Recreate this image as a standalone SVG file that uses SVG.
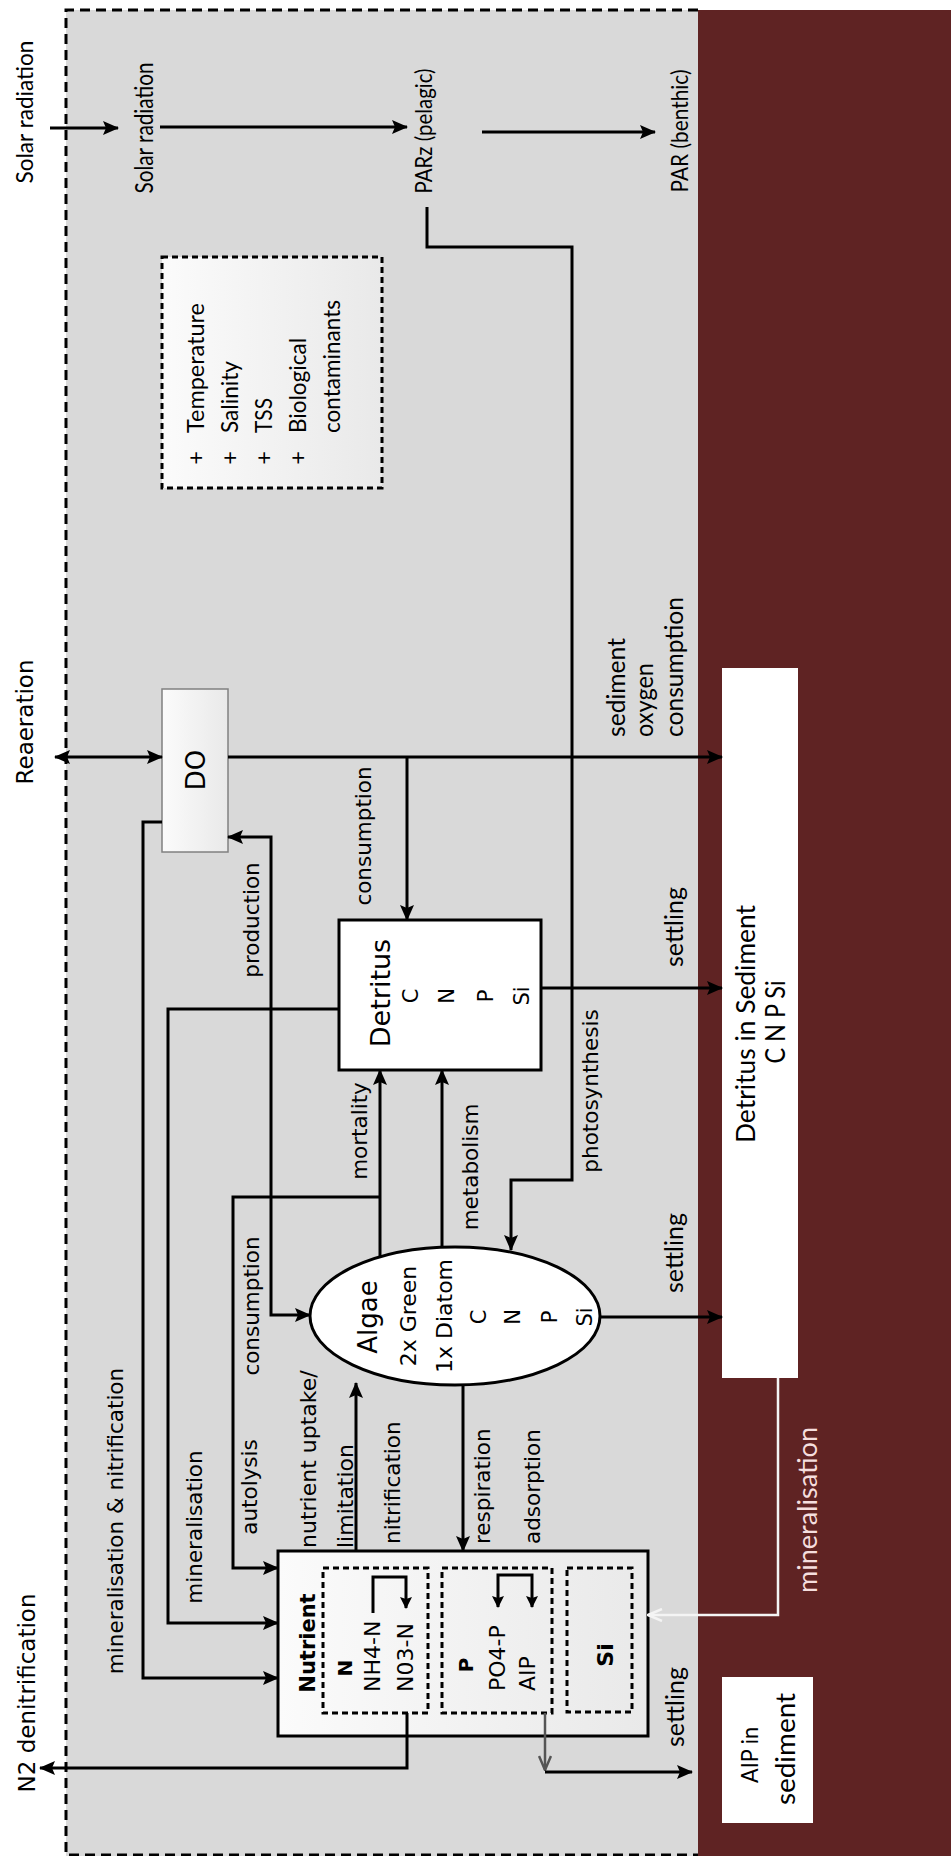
<svg xmlns="http://www.w3.org/2000/svg" width="951" height="1856" viewBox="0 0 951 1856">
<defs>
<style>
.dv{font-family:"DejaVu Sans",Verdana,sans-serif;fill:#000}
.lt{font-family:Lato,"Open Sans",sans-serif;fill:#000}
.b{font-weight:bold}
.f20{font-size:20px}.f21{font-size:21px}.f215{font-size:21.5px}.f22{font-size:22px}
.f23{font-size:23px}.f26{font-size:26px}.f27{font-size:27px}
.ln{fill:none;stroke:#000;stroke-width:3}
.box{fill:#fff;stroke:#000;stroke-width:3}
.dash{fill:none;stroke:#000;stroke-width:3;stroke-dasharray:6 4}
.wt{fill:#f5dede}
</style>
<linearGradient id="gbox" x1="0" y1="0" x2="1" y2="0">
<stop offset="0" stop-color="#fbfbfb"/><stop offset="1" stop-color="#e9e9e9"/>
</linearGradient>
<marker id="ah" markerUnits="userSpaceOnUse" viewBox="0 0 16 14" markerWidth="16" markerHeight="14" refX="15" refY="7" orient="auto-start-reverse"><path d="M0,0 L16,7 L0,14 L3,7 z" fill="#000"/></marker>
<marker id="ahs" markerUnits="userSpaceOnUse" viewBox="0 0 12 12" markerWidth="12" markerHeight="12" refX="11" refY="6" orient="auto-start-reverse"><path d="M0,0 L12,6 L0,12 L2,6 z" fill="#000"/></marker>
<marker id="ahw" markerUnits="userSpaceOnUse" viewBox="0 0 16 14" markerWidth="16" markerHeight="14" refX="15" refY="7" orient="auto"><path d="M1,1 L15,7 L1,13" fill="none" stroke="#f4f4f4" stroke-width="2.5"/></marker>
<marker id="ahg" markerUnits="userSpaceOnUse" viewBox="0 0 16 14" markerWidth="16" markerHeight="14" refX="15" refY="7" orient="auto"><path d="M1,1 L15,7 L1,13" fill="none" stroke="#555" stroke-width="2.5"/></marker>
</defs>

<rect x="0" y="0" width="951" height="1856" fill="#fff"/>
<rect x="66" y="10" width="632" height="1846" fill="#d9d9d9"/>
<rect x="698" y="10" width="253" height="1846" fill="#5f2323"/>
<path d="M698,10 H66 V1855 H698" fill="none" stroke="#000" stroke-width="3" stroke-dasharray="10 6"/>

<g id="outside-labels">
<text class="lt" font-size="24" x="33" y="112" text-anchor="middle" textLength="143" lengthAdjust="spacingAndGlyphs" transform="rotate(-90 33 112)">Solar radiation</text>
<text class="dv f23" x="33" y="722" text-anchor="middle" transform="rotate(-90 33 722)">Reaeration</text>
<text class="dv f23" x="35" y="1693" text-anchor="middle" transform="rotate(-90 35 1693)">N2 denitrification</text>
</g>

<g id="solar">
<text class="lt" font-size="24.5" x="153" y="128" text-anchor="middle" textLength="131" lengthAdjust="spacingAndGlyphs" transform="rotate(-90 153 128)">Solar radiation</text>
</g>
<g id="parz">
<text class="lt" font-size="23.5" x="432" y="131" text-anchor="middle" textLength="125" lengthAdjust="spacingAndGlyphs" transform="rotate(-90 432 131)">PARz (pelagic)</text>
</g>
<g id="par-benthic">
<text class="lt" font-size="23.5" x="688" y="131" text-anchor="middle" textLength="123" lengthAdjust="spacingAndGlyphs" transform="rotate(-90 688 131)">PAR (benthic)</text>
</g>

<g id="parameters">
<rect x="162" y="257" width="220" height="231" fill="url(#gbox)" stroke="#000" stroke-width="3" stroke-dasharray="6 4"/>
<g class="lt" font-size="23.5">
<text x="204" y="458" text-anchor="middle" transform="rotate(-90 204 458)">+</text>
<text x="238" y="458" text-anchor="middle" transform="rotate(-90 238 458)">+</text>
<text x="272" y="458" text-anchor="middle" transform="rotate(-90 272 458)">+</text>
<text x="306" y="458" text-anchor="middle" transform="rotate(-90 306 458)">+</text>
<text x="204" y="433" textLength="130" lengthAdjust="spacingAndGlyphs" transform="rotate(-90 204 433)">Temperature</text>
<text x="238" y="433" textLength="72" lengthAdjust="spacingAndGlyphs" transform="rotate(-90 238 433)">Salinity</text>
<text x="272" y="433" textLength="35" lengthAdjust="spacingAndGlyphs" transform="rotate(-90 272 433)">TSS</text>
<text x="306" y="433" textLength="95" lengthAdjust="spacingAndGlyphs" transform="rotate(-90 306 433)">Biological</text>
<text x="340" y="433" textLength="133" lengthAdjust="spacingAndGlyphs" transform="rotate(-90 340 433)">contaminants</text>
</g>
</g>

<g id="do">
<rect x="162" y="689" width="66" height="163" fill="url(#gbox)" stroke="#808080" stroke-width="1.5"/>
<text class="dv f26" x="205" y="770" text-anchor="middle" transform="rotate(-90 205 770)">DO</text>
</g>

<g id="detritus">
<rect class="box" x="339" y="920" width="202" height="150"/>
<text class="dv f27" x="390" y="993" text-anchor="middle" transform="rotate(-90 390 993)">Detritus</text>
<text class="dv f21" x="418" y="996" text-anchor="middle" transform="rotate(-90 418 996)">C</text>
<text class="dv f21" x="454" y="996" text-anchor="middle" transform="rotate(-90 454 996)">N</text>
<text class="dv f21" x="493" y="996" text-anchor="middle" transform="rotate(-90 493 996)">P</text>
<text class="dv f21" x="529" y="996" text-anchor="middle" transform="rotate(-90 529 996)">Si</text>
</g>

<g id="algae">
<ellipse cx="455" cy="1316" rx="145" ry="69" fill="#fff" stroke="#000" stroke-width="3"/>
<text class="dv f26" x="377" y="1317" text-anchor="middle" transform="rotate(-90 377 1317)">Algae</text>
<text class="dv f22" x="416" y="1316" text-anchor="middle" transform="rotate(-90 416 1316)">2x Green</text>
<text class="dv f22" x="452" y="1316" text-anchor="middle" transform="rotate(-90 452 1316)">1x Diatom</text>
<text class="dv f21" x="486" y="1317" text-anchor="middle" transform="rotate(-90 486 1317)">C</text>
<text class="dv f21" x="520" y="1317" text-anchor="middle" transform="rotate(-90 520 1317)">N</text>
<text class="dv f21" x="557" y="1317" text-anchor="middle" transform="rotate(-90 557 1317)">P</text>
<text class="dv f21" x="592" y="1317" text-anchor="middle" transform="rotate(-90 592 1317)">Si</text>
</g>

<g id="nutrient">
<rect x="278" y="1551" width="370" height="185" fill="url(#gbox)" stroke="#000" stroke-width="3"/>
<rect class="dash" x="323" y="1568" width="105" height="145"/>
<rect class="dash" x="442" y="1568" width="110" height="145"/>
<rect class="dash" x="567" y="1568" width="65" height="144"/>
<text class="dv b f21" x="315" y="1643" text-anchor="middle" transform="rotate(-90 315 1643)">Nutrient</text>
<text class="dv b f20" x="352" y="1668" text-anchor="middle" transform="rotate(-90 352 1668)">N</text>
<text class="dv f22" x="380" y="1692" transform="rotate(-90 380 1692)">NH4-N</text>
<text class="dv f22" x="413" y="1692" transform="rotate(-90 413 1692)">N03-N</text>
<text class="dv b f20" x="473" y="1665" text-anchor="middle" transform="rotate(-90 473 1665)">P</text>
<text class="dv f22" x="505" y="1691" transform="rotate(-90 505 1691)">PO4-P</text>
<text class="dv f22" x="535" y="1691" transform="rotate(-90 535 1691)">AIP</text>
<text class="dv b f22" x="613" y="1655" text-anchor="middle" transform="rotate(-90 613 1655)">Si</text>
</g>

<g id="detritus-sediment">
<rect x="722" y="668" width="76" height="710" fill="#fff"/>
<text class="lt" font-size="27.5" x="755" y="1024" text-anchor="middle" textLength="238" lengthAdjust="spacingAndGlyphs" transform="rotate(-90 755 1024)">Detritus in Sediment</text>
<text class="lt" font-size="26" x="785" y="1022" text-anchor="middle" textLength="83" lengthAdjust="spacingAndGlyphs" transform="rotate(-90 785 1022)">C N P Si</text>
</g>

<g id="aip-sediment">
<rect x="722" y="1677" width="91" height="146" fill="#fff"/>
<text class="lt" font-size="24" x="758" y="1755" text-anchor="middle" textLength="56" lengthAdjust="spacingAndGlyphs" transform="rotate(-90 758 1755)">AIP in</text>
<text class="lt" font-size="27" x="795" y="1749" text-anchor="middle" textLength="112" lengthAdjust="spacingAndGlyphs" transform="rotate(-90 795 1749)">sediment</text>
</g>

<g id="connectors">
<path class="ln" d="M50,128 H118" marker-end="url(#ah)"/>
<path class="ln" d="M160,127 H407" marker-end="url(#ah)"/>
<path class="ln" d="M482,132 H655" marker-end="url(#ah)"/>
<path class="ln" d="M427,207 V247 H572 V1180 H511 V1250" marker-end="url(#ah)"/>
<path class="ln" d="M55,757 H162" marker-start="url(#ah)" marker-end="url(#ah)"/>
<path class="ln" d="M228,757 H722" marker-end="url(#ah)"/>
<path class="ln" d="M407,757 V920" marker-end="url(#ah)"/>
<path class="ln" d="M228,837 H271 V1315 H310" marker-start="url(#ah)" marker-end="url(#ah)"/>
<path class="ln" d="M162,822 H143 V1678 H278" marker-end="url(#ah)"/>
<path class="ln" d="M339,1009 H168 V1623 H278" marker-end="url(#ah)"/>
<path class="ln" d="M380,1257 V1070" marker-end="url(#ah)"/>
<path class="ln" d="M380,1197 H233 V1568 H278" marker-end="url(#ah)"/>
<path class="ln" d="M442,1248 V1070" marker-end="url(#ah)"/>
<path class="ln" d="M541,988 H722" marker-end="url(#ah)"/>
<path class="ln" d="M600,1317 H722" marker-end="url(#ah)"/>
<path class="ln" d="M356,1551 V1383" marker-end="url(#ah)"/>
<path class="ln" d="M463,1385 V1551" marker-end="url(#ah)"/>
<path class="ln" d="M407,1713 V1768 H40" marker-end="url(#ah)"/>
<path d="M545,1713 V1770" fill="none" stroke="#555" stroke-width="2.5" marker-end="url(#ahg)"/>
<path class="ln" d="M545,1772 H692" marker-end="url(#ah)"/>
<path d="M778,1378 V1615 H648" fill="none" stroke="#f4f4f4" stroke-width="2.5" marker-end="url(#ahw)"/>
<path class="ln" d="M373,1613 V1577 H406 V1608" marker-end="url(#ahs)"/>
<path class="ln" d="M498,1607 V1575 H532 V1607" marker-start="url(#ahs)" marker-end="url(#ahs)"/>
</g>

<g id="connector-labels">
<text class="dv f215" x="371" y="836" text-anchor="middle" transform="rotate(-90 371 836)">consumption</text>
<text class="dv f215" x="259" y="920" text-anchor="middle" transform="rotate(-90 259 920)">production</text>
<g class="lt" font-size="25.5">
<text x="625" y="737" textLength="99" lengthAdjust="spacingAndGlyphs" transform="rotate(-90 625 737)">sediment</text>
<text x="653" y="737" textLength="74" lengthAdjust="spacingAndGlyphs" transform="rotate(-90 653 737)">oxygen</text>
<text x="683" y="737" textLength="140" lengthAdjust="spacingAndGlyphs" transform="rotate(-90 683 737)">consumption</text>
<text x="683" y="927" text-anchor="middle" textLength="80" lengthAdjust="spacingAndGlyphs" transform="rotate(-90 683 927)">settling</text>
<text x="683" y="1253" text-anchor="middle" textLength="80" lengthAdjust="spacingAndGlyphs" transform="rotate(-90 683 1253)">settling</text>
<text x="684" y="1707" text-anchor="middle" textLength="80" lengthAdjust="spacingAndGlyphs" transform="rotate(-90 684 1707)">settling</text>
</g>
<text class="dv f215" x="598" y="1091" text-anchor="middle" transform="rotate(-90 598 1091)">photosynthesis</text>
<text class="dv f215" x="367" y="1131" text-anchor="middle" transform="rotate(-90 367 1131)">mortality</text>
<text class="dv f215" x="478" y="1167" text-anchor="middle" transform="rotate(-90 478 1167)">metabolism</text>
<text class="dv f215" x="259" y="1306" text-anchor="middle" transform="rotate(-90 259 1306)">consumption</text>
<text class="dv f215" x="123" y="1521" text-anchor="middle" transform="rotate(-90 123 1521)">mineralisation &amp; nitrification</text>
<text class="dv f215" x="202" y="1527" text-anchor="middle" transform="rotate(-90 202 1527)">mineralisation</text>
<text class="dv f215" x="257" y="1487" text-anchor="middle" transform="rotate(-90 257 1487)">autolysis</text>
<text class="dv f22" x="316" y="1548" transform="rotate(-90 316 1548)">nutrient uptake/</text>
<text class="dv f22" x="353" y="1548" transform="rotate(-90 353 1548)">limitation</text>
<text class="dv f215" x="400" y="1544" transform="rotate(-90 400 1544)">nitrification</text>
<text class="dv f215" x="490" y="1544" transform="rotate(-90 490 1544)">respiration</text>
<text class="dv f215" x="540" y="1544" transform="rotate(-90 540 1544)">adsorption</text>
<text class="lt wt" font-size="27.5" x="817" y="1510" text-anchor="middle" textLength="166" lengthAdjust="spacingAndGlyphs" transform="rotate(-90 817 1510)">mineralisation</text>
</g>
</svg>
